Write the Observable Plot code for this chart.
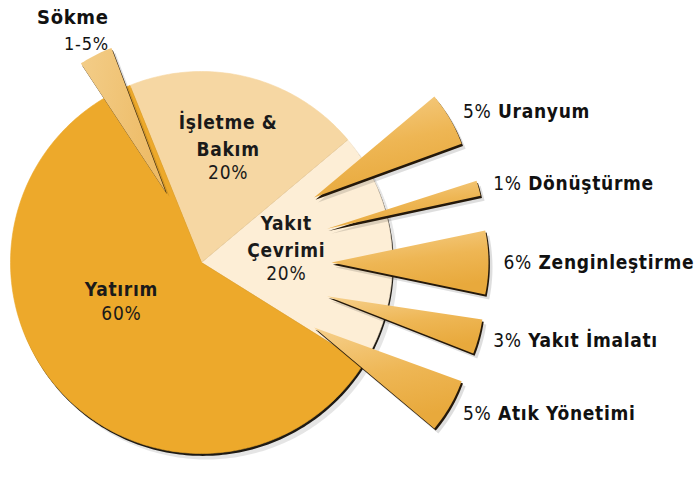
<!DOCTYPE html>
<html>
<head>
<meta charset="utf-8">
<script src="https://cdn.jsdelivr.net/npm/d3@7"></script>
<script src="https://cdn.jsdelivr.net/npm/@observablehq/plot@0.6"></script>
<style>
  html, body { margin: 0; padding: 0; background: #fff; }
  #chart svg { display: block; background: #fff; }
  #chart text { letter-spacing: 0.7px; }
</style>
</head>
<body>
<div id="chart"></div>
<script>
// ---------------- data ----------------
const mainSlices = ["Yakıt Çevrimi", "İşletme & Bakım", "Yatırım"];
const mainShares = [20, 20, 60];
const mainNameLines = ["Yakıt\nÇevrimi", "İşletme &\nBakım", "Yatırım"];
const mainPctLabels = ["20%", "20%", "60%"];

const fuelSteps = ["Uranyum", "Dönüştürme", "Zenginleştirme", "Yakıt İmalatı", "Atık Yönetimi"];
const fuelShares = [5, 1, 6, 3, 5];
const fuelPctLabels = ["5%", "1%", "6%", "3%", "5%"];

const sokmeName = "Sökme";
const sokmeShare = 3;          // drawn width (range 1-5%)
const sokmeLabel = "1-5%";

// ---------------- layout ----------------
const W = 700, H = 478;
const CX = 201, CY = 262, R = 191;       // pie centre and radius (px)
const START = -32;                       // first slice start angle (deg, counter-clockwise from east)
const sliceColors = ["#FDEED6", "#F6D7A3", "#EDA92B"];
const labelR = [85, 110, 87];
const labelTurn = [0, 0, -17];
const FONT = "'DejaVu Sans Condensed', 'DejaVu Sans', sans-serif";

const rad = a => a * Math.PI / 180;
const pol = (r, a) => ({x: r * Math.cos(rad(a)), y: r * Math.sin(rad(a))});

// main slice angles from the shares
const total = d3.sum(mainShares);
let acc = START;
const mainGeo = mainSlices.map((name, i) => {
  const a0 = acc, a1 = acc + mainShares[i] / total * 360;
  acc = a1;
  return {name, i, a0, a1, mid: (a0 + a1) / 2};
});

function sectorRows(id, a0, a1, r) {
  const pts = [{id, x: 0, y: 0}];
  const n = Math.max(4, Math.ceil(Math.abs(a1 - a0)));
  for (let k = 0; k <= n; k++) pts.push({id, ...pol(r, a0 + (a1 - a0) * k / n)});
  pts.push({id, x: 0, y: 0});
  return pts;
}
function wedgeRows(id, dir, apexR, len, sweep) {
  const ap = pol(apexR, dir);
  const pts = [{id, x: ap.x, y: ap.y}];
  const n = 16;
  for (let k = 0; k <= n; k++) {
    const p = pol(len, dir - sweep / 2 + sweep * k / n);
    pts.push({id, x: ap.x + p.x, y: ap.y + p.y});
  }
  pts.push({id, x: ap.x, y: ap.y});
  return pts;
}

// fuel-cycle wedges fanned out of the fuel-cycle slice
const fan = d3.scalePoint().domain(fuelSteps).range([30, -30]);
const APEX = 130, OUTER = 287, LABEL_R = 302;
const sweepOf = share => share / 100 * 360 + 2;
const fuelRows = fuelSteps.flatMap((s, i) => wedgeRows(s, fan(s), APEX, OUTER - APEX, sweepOf(fuelShares[i])));

// dismantling wedge on the boundary of O&M and investment
const sokmeDir = mainGeo[1].a1 + 5;
const SOKME_APEX = 79, SOKME_LEN = 154;
const sokmeRows = wedgeRows(sokmeName, sokmeDir, SOKME_APEX, SOKME_LEN, sweepOf(sokmeShare));
const sokmeTip = pol(SOKME_APEX + SOKME_LEN, sokmeDir);

const wedgeRowsAll = fuelRows.concat(sokmeRows);
const fullCircle = sectorRows("all", 0, 360, R);

const sliceMarks = mainGeo.map(g =>
  Plot.line(sectorRows(g.name, g.a0, g.a1, R), {x: "x", y: "y", fill: sliceColors[g.i], stroke: sliceColors[g.i], strokeWidth: 0.6})
);

const chart = Plot.plot({
  width: W, height: H,
  margin: 0,
  x: {domain: [-CX, W - CX], axis: null},
  y: {domain: [CY - H, CY], axis: null},
  marks: [
    // pie soft shadow and dark rim
    Plot.line(fullCircle, {x: "x", y: "y", fill: "#000", fillOpacity: 0.10, stroke: "none", dx: 5, dy: 6}),
    Plot.line(fullCircle, {x: "x", y: "y", fill: "#1e1a14", stroke: "none", dx: 1.3, dy: 2.4}),
    ...sliceMarks,
    // wedges: soft shadow, dark underside, gradient body
    Plot.line(wedgeRowsAll, {x: "x", y: "y", z: "id", fill: "#000", fillOpacity: 0.13, stroke: "none", dx: 4, dy: 5}),
    Plot.line(wedgeRowsAll, {x: "x", y: "y", z: "id", fill: "#24180a", stroke: "none", dx: 1.4, dy: 2.2}),
    Plot.line(fuelRows, {x: "x", y: "y", z: "id", fill: "url(#wedgeGrad)", stroke: "none"}),
    Plot.line(sokmeRows, {x: "x", y: "y", z: "id", fill: "url(#sokmeGrad)", stroke: "none"}),
    // main slice labels
    Plot.text(mainGeo, {
      x: g => pol(labelR[g.i], g.mid + labelTurn[g.i]).x,
      y: g => pol(labelR[g.i], g.mid + labelTurn[g.i]).y,
      text: g => mainNameLines[g.i],
      lineAnchor: "bottom", lineHeight: 1.4,
      fontSize: 19, fontWeight: "bold", fontFamily: FONT, fill: "#1a1a1a"
    }),
    Plot.text(mainGeo, {
      x: g => pol(labelR[g.i], g.mid + labelTurn[g.i]).x,
      y: g => pol(labelR[g.i], g.mid + labelTurn[g.i]).y,
      text: g => mainPctLabels[g.i],
      lineAnchor: "top", dy: 10,
      fontSize: 19, fontFamily: FONT, fill: "#1a1a1a"
    }),
    // fuel-cycle labels
    Plot.text(fuelSteps, {
      x: s => pol(LABEL_R, fan(s)).x, y: s => pol(LABEL_R, fan(s)).y,
      text: (s, i) => fuelPctLabels[i],
      textAnchor: "start", fontSize: 19, fontFamily: FONT, fill: "#111"
    }),
    Plot.text(fuelSteps, {
      x: s => pol(LABEL_R, fan(s)).x, y: s => pol(LABEL_R, fan(s)).y,
      text: s => s, dx: 35,
      textAnchor: "start", fontSize: 19, fontWeight: "bold", fontFamily: FONT, fill: "#111"
    }),
    // dismantling labels
    Plot.text([sokmeName], {
      x: () => sokmeTip.x, y: () => sokmeTip.y, text: d => d,
      textAnchor: "end", lineAnchor: "bottom", dx: 13, dy: -31,
      fontSize: 20, fontWeight: "bold", fontFamily: FONT, fill: "#111"
    }),
    Plot.text([sokmeLabel], {
      x: () => sokmeTip.x, y: () => sokmeTip.y, text: d => d,
      textAnchor: "end", lineAnchor: "bottom", dx: 13, dy: -5,
      fontSize: 18, fontFamily: FONT, fill: "#111"
    })
  ]
});

// gradients for the exploded wedges
const defs = d3.select(chart).insert("defs", ":first-child");
const g1 = defs.append("linearGradient").attr("id", "wedgeGrad").attr("x1", 0).attr("y1", 0).attr("x2", 0.3).attr("y2", 1);
g1.append("stop").attr("offset", "0%").attr("stop-color", "#F6D08C");
g1.append("stop").attr("offset", "55%").attr("stop-color", "#EEB654");
g1.append("stop").attr("offset", "100%").attr("stop-color", "#E8A93C");
const g2 = defs.append("linearGradient").attr("id", "sokmeGrad").attr("x1", 0).attr("y1", 0).attr("x2", 1).attr("y2", 0.2);
g2.append("stop").attr("offset", "0%").attr("stop-color", "#F3CD88");
g2.append("stop").attr("offset", "100%").attr("stop-color", "#EDBB66");

document.getElementById("chart").append(chart);
</script>
</body>
</html>
